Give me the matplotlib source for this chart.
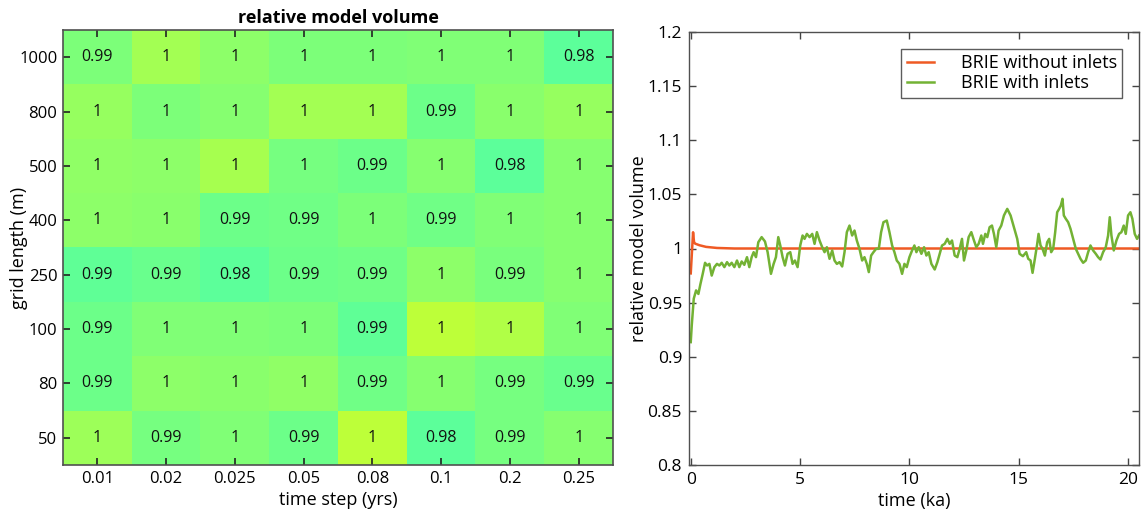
import numpy as np
import matplotlib
matplotlib.use("Agg")
import matplotlib.pyplot as plt
from matplotlib.colors import Normalize

plt.rcParams['font.family'] = ['Open Sans', 'DejaVu Sans']

# ---------------- data ----------------
time_steps = ["0.01", "0.02", "0.025", "0.05", "0.08", "0.1", "0.2", "0.25"]
grid_lengths = ["1000", "800", "500", "400", "250", "100", "80", "50"]

# estimated underlying relative volume (colour), rows top->bottom
volume = [
    [1.0001, 1.0095, 1.0044, 1.0001, 1.0001, 1.0015, 1.0015, 0.9926],
    [1.0064, 1.0001, 1.0025, 1.0095, 1.0095, 0.9966, 1.0034, 1.0064],
    [1.0054, 1.0044, 1.0103, 0.9985, 0.9966, 1.0025, 0.9926, 1.0025],
    [1.0044, 1.0034, 0.9966, 0.9975, 1.0005, 0.9975, 1.0015, 1.0025],
    [0.9936, 0.9956, 0.9926, 0.9966, 0.9975, 1.0044, 0.9995, 1.0025],
    [0.9966, 1.0015, 1.0015, 1.0005, 0.9936, 1.0162, 1.0132, 1.0015],
    [0.9966, 1.0044, 1.0034, 1.0054, 0.9975, 1.0025, 0.9985, 0.9956],
    [1.0083, 0.9985, 1.0015, 0.9966, 1.0162, 0.9926, 0.9985, 1.0025],
]
cell_labels = [
    ["0.99", "1", "1", "1", "1", "1", "1", "0.98"],
    ["1", "1", "1", "1", "1", "0.99", "1", "1"],
    ["1", "1", "1", "1", "0.99", "1", "0.98", "1"],
    ["1", "1", "0.99", "0.99", "1", "0.99", "1", "1"],
    ["0.99", "0.99", "0.98", "0.99", "0.99", "1", "0.99", "1"],
    ["0.99", "1", "1", "1", "0.99", "1", "1", "1"],
    ["0.99", "1", "1", "1", "0.99", "1", "0.99", "0.99"],
    ["1", "0.99", "1", "0.99", "1", "0.98", "0.99", "1"],
]

t_no_inlets = [0.0, 0.05, 0.106, 0.15, 0.2, 0.4, 0.7, 1.2, 2.0, 20.5]
v_no_inlets = [0.977, 0.995, 1.015, 1.006, 1.0045, 1.003, 1.0015, 1.0005, 1.0, 1.0]

t_inlets = [
    0.000, 0.046, 0.137, 0.244, 0.350, 0.441, 0.548, 0.655, 0.746, 0.852,
    0.959, 1.080, 1.200, 1.309, 1.415, 1.537, 1.659, 1.765, 1.872, 1.994,
    2.115, 2.222, 2.329, 2.450, 2.572, 2.679, 2.785, 2.876, 2.983, 3.090,
    3.242, 3.394, 3.516, 3.668, 3.790, 3.896, 4.003, 4.094, 4.201, 4.307,
    4.429, 4.551, 4.657, 4.764, 4.886, 5.007, 5.114, 5.205, 5.312, 5.434,
    5.556, 5.662, 5.769, 5.890, 6.012, 6.119, 6.225, 6.347, 6.469, 6.575,
    6.682, 6.804, 6.925, 7.032, 7.139, 7.260, 7.382, 7.489, 7.595, 7.717,
    7.839, 7.945, 8.052, 8.143, 8.250, 8.356, 8.478, 8.600, 8.706, 8.813,
    8.965, 9.087, 9.209, 9.315, 9.422, 9.544, 9.665, 9.772, 9.878, 10.000,
    10.122, 10.228, 10.320, 10.426, 10.548, 10.670, 10.776, 10.883, 11.005, 11.157,
    11.279, 11.385, 11.492, 11.614, 11.735, 11.842, 11.948, 12.070, 12.192, 12.298,
    12.405, 12.496, 12.603, 12.709, 12.831, 12.953, 13.059, 13.166, 13.288, 13.364,
    13.470, 13.562, 13.668, 13.775, 13.866, 13.973, 14.079, 14.201, 14.323, 14.475,
    14.627, 14.779, 14.931, 15.038, 15.190, 15.342, 15.434, 15.540, 15.632, 15.738,
    15.845, 15.906, 15.997, 16.088, 16.195, 16.301, 16.393, 16.484, 16.575, 16.667,
    16.758, 16.849, 16.925, 17.001, 17.062, 17.154, 17.260, 17.367, 17.489, 17.610,
    17.717, 17.823, 17.945, 18.067, 18.174, 18.280, 18.402, 18.524, 18.630, 18.737,
    18.858, 18.980, 19.087, 19.163, 19.239, 19.346, 19.468, 19.589, 19.696, 19.802,
    19.894, 20.000, 20.107, 20.198, 20.305, 20.411, 20.503]
v_inlets = [
    0.9135, 0.929, 0.9536, 0.9613, 0.958, 0.967, 0.9766, 0.9868, 0.9843, 0.9858,
    0.975, 0.9828, 0.9858, 0.9843, 0.9868, 0.9828, 0.9874, 0.9843, 0.9868, 0.9828,
    0.9889, 0.9828, 0.988, 0.9849, 0.992, 0.9828, 0.992, 0.9966, 0.992, 1.0058,
    1.0105, 1.0065, 0.9966, 0.9766, 0.9858, 0.992, 1.0105, 1.0028, 0.992, 0.9843,
    0.9951, 0.9966, 0.9858, 0.9889, 0.9828, 1.0028, 1.012, 1.0089, 1.0135, 1.0105,
    1.0135, 1.0043, 1.0151, 1.0074, 1.0012, 0.9966, 1.0012, 0.9905, 0.9982, 0.9889,
    0.9858, 0.9874, 0.9834, 0.9966, 1.0151, 1.0212, 1.012, 1.0166, 1.0074, 0.9997,
    0.9889, 0.992, 0.9858, 0.9782, 0.9935, 0.9966, 0.9997, 0.9997, 1.0151, 1.0243,
    1.0258, 1.0151, 1.0028, 0.9966, 0.9889, 0.9858, 0.9766, 0.9858, 0.9828, 0.992,
    0.9982, 1.0028, 0.9966, 1.0012, 0.9951, 1.0012, 0.9935, 0.9966, 0.9858, 0.9806,
    0.9874, 0.9951, 1.0028, 1.0043, 1.0089, 1.0043, 1.0074, 0.9935, 0.992, 0.9997,
    1.0089, 0.9889, 0.9982, 1.0105, 1.0151, 1.0074, 1.0012, 1.0043, 1.012, 1.0043,
    1.0135, 1.0105, 1.0197, 1.0212, 1.0135, 1.0012, 1.0166, 1.0212, 1.0305, 1.0366,
    1.0305, 1.0197, 1.0089, 0.9951, 0.9929, 0.9966, 0.9905, 0.9889, 0.9775, 0.9905,
    1.0043, 1.0135, 1.0028, 0.9997, 0.9935, 1.0058, 1.0089, 0.9966, 0.9997, 1.0151,
    1.0335, 1.0366, 1.0397, 1.0459, 1.0305, 1.0274, 1.0243, 1.0182, 1.0089, 0.9997,
    0.9951, 0.9905, 0.9868, 0.9889, 0.9966, 1.0028, 0.9982, 0.9951, 0.992, 0.9898,
    0.9966, 1.0012, 1.012, 1.0289, 1.012, 0.9982, 1.0074, 1.0135, 1.0151, 1.0212,
    1.0135, 1.0305, 1.0335, 1.0274, 1.0135, 1.0089, 1.012]

y_ticks_right = [0.8, 0.85, 0.9, 0.95, 1.0, 1.05, 1.1, 1.15, 1.2]
y_tick_labels_right = ["0.8", "0.85", "0.9", "0.95", "1", "1.05", "1.1", "1.15", "1.2"]
x_ticks_right = [0, 5, 10, 15, 20]

# ---------------- figure ----------------
W, H = 1141, 513
fig = plt.figure(figsize=(W / 100, H / 100), dpi=100)
spine_c = '#505050'

def px_axes(x0, y0, x1, y1):
    return fig.add_axes([x0 / W, 1 - y1 / H, (x1 - x0) / W, (y1 - y0) / H])

# left heatmap
ax1 = px_axes(63, 30, 613, 465)
arr = np.array(volume)
ax1.imshow(arr, cmap='jet', norm=Normalize(0.9, 1.1), aspect='auto',
           interpolation='nearest')
for i in range(len(grid_lengths)):
    for j in range(len(time_steps)):
        ax1.text(j, i, cell_labels[i][j], ha='center', va='center',
                 fontsize=11.5, color='#111111')
ax1.set_xticks(range(len(time_steps)))
ax1.set_xticklabels(time_steps)
ax1.set_yticks(range(len(grid_lengths)))
ax1.set_yticklabels(grid_lengths)
ax1.tick_params(direction='in', top=True, right=True, length=5, width=1.2,
                labelsize=12, color='#222222', pad=4)
for s in ax1.spines.values():
    s.set_color(spine_c)
    s.set_linewidth(1.2)
ax1.set_xlabel("time step (yrs)", fontsize=13, labelpad=3)
ax1.set_ylabel("grid length (m)", fontsize=13)
ax1.yaxis.set_label_coords(-0.063, 0.5)
ax1.set_title("relative model volume", fontsize=13, fontweight='bold', pad=5)

# right line chart
ax2 = px_axes(689, 32, 1139, 465)
ax2.plot(t_no_inlets, v_no_inlets, color='#ef5a24', lw=1.8, label='BRIE without inlets')
ax2.plot(t_inlets, v_inlets, color='#73b234', lw=1.8, label='BRIE with inlets')
ax2.set_xlim(-0.08, 20.5)
ax2.set_ylim(0.8, 1.2)
ax2.set_yticks(y_ticks_right)
ax2.set_yticklabels(y_tick_labels_right)
ax2.set_xticks(x_ticks_right)
ax2.tick_params(direction='in', top=True, right=True, length=5, width=1.0,
                labelsize=12.5, color='#444444', pad=5)
for s in ax2.spines.values():
    s.set_color(spine_c)
    s.set_linewidth(1.0)
ax2.set_xlabel("time (ka)", fontsize=13, labelpad=3)
ax2.set_ylabel("relative model volume", fontsize=13)
ax2.yaxis.set_label_coords(-0.09, 0.5)
leg = ax2.legend(loc='upper right', bbox_to_anchor=(0.963, 0.961), fontsize=13,
                 frameon=True, fancybox=False, edgecolor='#333333',
                 handlelength=1.5, borderpad=0.3, labelspacing=0.12,
                 handletextpad=1.5, borderaxespad=0)
leg.get_frame().set_linewidth(1.0)

fig.savefig("out.png", dpi=100)
